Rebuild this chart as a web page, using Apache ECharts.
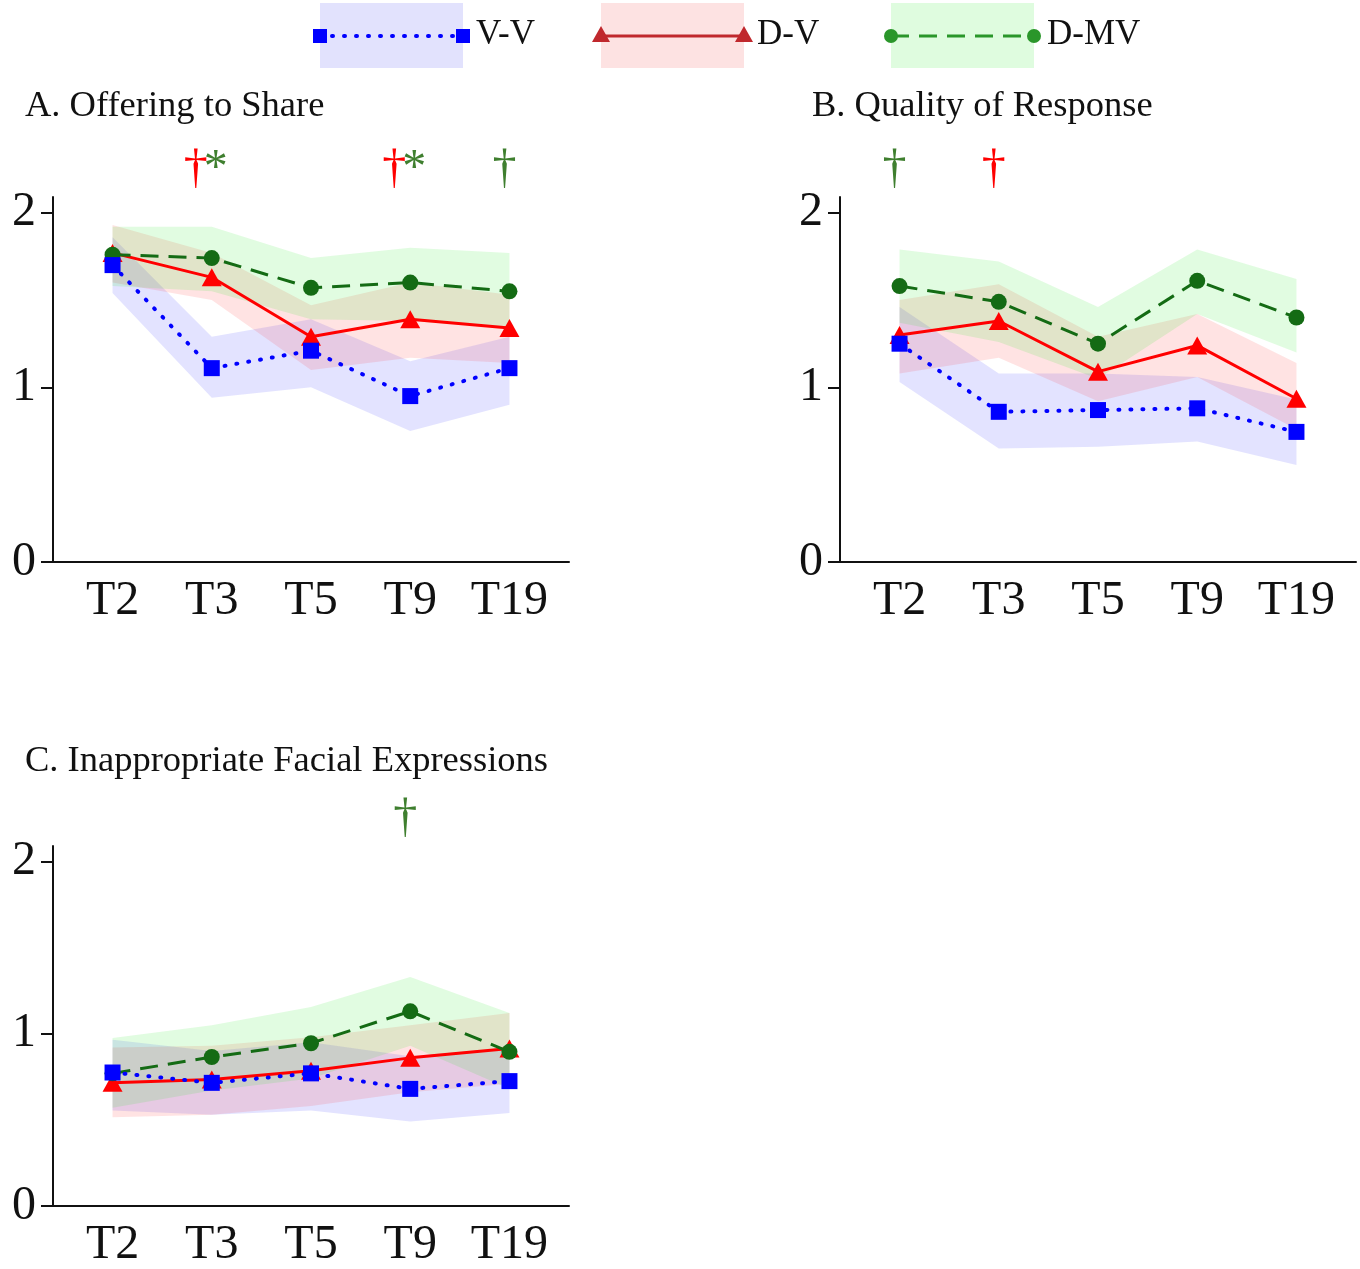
<!DOCTYPE html>
<html>
<head>
<meta charset="utf-8">
<script src="https://cdn.jsdelivr.net/npm/echarts@6/dist/echarts.min.js"></script>
<style>
  html, body { margin: 0; padding: 0; background: #fff; }
  #main { width: 1360px; height: 1269px; }
</style>
</head>
<body>
<div id="main"></div>
<script>
var chartDom = document.getElementById('main');
var myChart = echarts.init(chartDom);
var option;

// categories (time points) and their x positions
var categories = ['T2', 'T3', 'T5', 'T9', 'T19'];
var xPos = [1, 2, 3, 4, 5];
var yTicks = [0, 1, 2];

// A. Offering to Share
var vvA = [1.70, 1.11, 1.21, 0.95, 1.11];
var vvA_lo = [1.54, 0.94, 1.00, 0.75, 0.90];
var vvA_hi = [1.86, 1.29, 1.39, 1.15, 1.29];
var dvA = [1.77, 1.63, 1.29, 1.39, 1.34];
var dvA_lo = [1.60, 1.50, 1.10, 1.17, 1.14];
var dvA_hi = [1.93, 1.77, 1.47, 1.60, 1.53];
var dmvA = [1.76, 1.74, 1.57, 1.60, 1.55];
var dmvA_lo = [1.58, 1.55, 1.39, 1.38, 1.34];
var dmvA_hi = [1.92, 1.92, 1.74, 1.80, 1.77];

// B. Quality of Response
var vvB = [1.25, 0.86, 0.87, 0.88, 0.745];
var vvB_lo = [1.03, 0.65, 0.66, 0.69, 0.555];
var vvB_hi = [1.46, 1.08, 1.08, 1.06, 0.93];
var dvB = [1.30, 1.38, 1.09, 1.24, 0.935];
var dvB_lo = [1.08, 1.17, 0.92, 1.06, 0.76];
var dvB_hi = [1.50, 1.59, 1.29, 1.42, 1.14];
var dmvB = [1.58, 1.49, 1.25, 1.61, 1.40];
var dmvB_lo = [1.37, 1.26, 1.05, 1.42, 1.20];
var dmvB_hi = [1.79, 1.72, 1.46, 1.79, 1.62];

// C. Inappropriate Facial Expressions
var vvC = [0.775, 0.715, 0.77, 0.68, 0.725];
var vvC_lo = [0.555, 0.53, 0.555, 0.49, 0.54];
var vvC_hi = [0.965, 0.90, 0.95, 0.87, 0.92];
var dvC = [0.715, 0.735, 0.785, 0.86, 0.915];
var dvC_lo = [0.515, 0.53, 0.58, 0.66, 0.71];
var dvC_hi = [0.92, 0.93, 0.98, 1.05, 1.12];
var dmvC = [0.77, 0.865, 0.945, 1.13, 0.895];
var dmvC_lo = [0.57, 0.67, 0.74, 0.93, 0.68];
var dmvC_hi = [0.975, 1.05, 1.155, 1.33, 1.12];

// significance marks: panel, time point, mark, group
var markPanel = [0, 0, 0, 0, 0, 1, 1, 2];
var markX = [2, 2, 4, 4, 5, 1, 2, 4];
var markText = ['†', '*', '†', '*', '†', '†', '†', '†'];
var markGroup = ['dv', 'dmv', 'dv', 'dmv', 'dmv', 'dmv', 'dv', 'dmv'];
var markY = 2.25;

var FONT = '"Liberation Serif", "Times New Roman", serif';
var BLUE = '#0000ff';
var RED = '#ff0000';
var GREEN = '#146b14';
var MARK_GREEN = '#3f7f2f';

var grids = [
  { left: 53, top: 197, width: 516, height: 365 },
  { left: 840, top: 197, width: 516, height: 365 },
  { left: 53, top: 846, width: 516, height: 364 }
];

function makeX(i) {
  return {
    type: 'value',
    gridIndex: i,
    min: 0.4,
    max: 5.6,
    axisLine: { show: true, onZero: false, lineStyle: { color: '#111', width: 2 } },
    axisTick: { show: false },
    splitLine: { show: false },
    axisLabel: {
      customValues: xPos,
      margin: 15,
      color: '#111',
      fontFamily: FONT,
      fontSize: 48,
      formatter: function (v) {
        return categories[Math.round(v) - 1];
      }
    }
  };
}

function makeY(i) {
  return {
    type: 'value',
    gridIndex: i,
    min: 0,
    max: 2.09,
    axisLine: { show: true, lineStyle: { color: '#111', width: 2 } },
    axisTick: { show: true, customValues: yTicks, length: 12, lineStyle: { color: '#111', width: 2 } },
    splitLine: { show: false },
    axisLabel: {
      customValues: yTicks,
      margin: 17,
      padding: [4, 0, 0, 0],
      color: '#111',
      fontFamily: FONT,
      fontSize: 48
    }
  };
}

// shaded confidence band drawn as one polygon
function band(i, lo, hi, color) {
  return {
    type: 'custom',
    xAxisIndex: i,
    yAxisIndex: i,
    silent: true,
    z: 1,
    data: xPos.map(function (x, k) { return [x, lo[k], hi[k]]; }),
    renderItem: function (params, api) {
      if (params.dataIndex !== 0) return;
      var pts = [];
      for (var k = 0; k < xPos.length; k++) pts.push(api.coord([xPos[k], hi[k]]));
      for (var k = xPos.length - 1; k >= 0; k--) pts.push(api.coord([xPos[k], lo[k]]));
      return { type: 'polygon', shape: { points: pts }, style: { fill: color } };
    }
  };
}

function vvLine(i, vals) {
  return {
    name: 'V-V', type: 'line', xAxisIndex: i, yAxisIndex: i, z: 5,
    data: xPos.map(function (x, k) { return [x, vals[k]]; }),
    symbol: 'rect', symbolSize: 16, showAllSymbol: true,
    lineStyle: { color: BLUE, width: 4, type: [1, 11], cap: 'round' },
    itemStyle: { color: BLUE }
  };
}
function dvLine(i, vals) {
  return {
    name: 'D-V', type: 'line', xAxisIndex: i, yAxisIndex: i, z: 3,
    data: xPos.map(function (x, k) { return [x, vals[k]]; }),
    symbol: 'triangle', symbolSize: [20, 18],
    lineStyle: { color: RED, width: 3, type: 'solid' },
    itemStyle: { color: RED }
  };
}
function dmvLine(i, vals) {
  return {
    name: 'D-MV', type: 'line', xAxisIndex: i, yAxisIndex: i, z: 4,
    data: xPos.map(function (x, k) { return [x, vals[k]]; }),
    symbol: 'circle', symbolSize: 16,
    lineStyle: { color: GREEN, width: 3, type: [18, 10] },
    itemStyle: { color: GREEN }
  };
}

var BAND_BLUE = 'rgba(40, 40, 255, 0.13)';
var BAND_RED = 'rgba(255, 40, 40, 0.13)';
var BAND_GREEN = 'rgba(40, 235, 40, 0.14)';

var panels = [
  [vvA, vvA_lo, vvA_hi, dvA, dvA_lo, dvA_hi, dmvA, dmvA_lo, dmvA_hi],
  [vvB, vvB_lo, vvB_hi, dvB, dvB_lo, dvB_hi, dmvB, dmvB_lo, dmvB_hi],
  [vvC, vvC_lo, vvC_hi, dvC, dvC_lo, dvC_hi, dmvC, dmvC_lo, dmvC_hi]
];

var series = [];
panels.forEach(function (p, i) {
  series.push(band(i, p[1], p[2], BAND_BLUE));
  series.push(band(i, p[4], p[5], BAND_RED));
  series.push(band(i, p[7], p[8], BAND_GREEN));
  series.push(dvLine(i, p[3]));
  series.push(dmvLine(i, p[6]));
  series.push(vvLine(i, p[0]));
});

// ---------- legend (drawn by hand: shaded box + line + end markers) ----------
function legendItem(x, fill, lineStyle, marker, label) {
  var items = [
    { type: 'rect', shape: { x: x, y: 3, width: 143, height: 65 }, style: { fill: fill } },
    { type: 'line', shape: { x1: x, y1: 36, x2: x + 143, y2: 36 }, style: lineStyle }
  ];
  [x, x + 143].forEach(function (cx) {
    items.push(marker(cx));
  });
  items.push({
    type: 'text', x: x + 156, y: 35,
    style: { text: label, font: '35px ' + FONT, fill: '#111', textVerticalAlign: 'middle' }
  });
  return items;
}

var legendGraphics = [].concat(
  legendItem(320, '#e2e2fd', { stroke: BLUE, lineWidth: 4, lineDash: [1, 11], lineCap: 'round' }, function (cx) {
    return { type: 'rect', shape: { x: cx - 7, y: 29, width: 14, height: 14 }, style: { fill: BLUE } };
  }, 'V-V'),
  legendItem(601, '#fde2e2', { stroke: '#c0282d', lineWidth: 3 }, function (cx) {
    return { type: 'polygon', shape: { points: [[cx - 9, 42], [cx + 9, 42], [cx, 26]] }, style: { fill: '#c0282d' } };
  }, 'D-V'),
  legendItem(891, '#dffcdf', { stroke: '#2a962a', lineWidth: 3, lineDash: [18, 10] }, function (cx) {
    return { type: 'circle', shape: { cx: cx, cy: 36, r: 7 }, style: { fill: '#2a962a' } };
  }, 'D-MV')
);

var titleStyle = { fontFamily: FONT, fontSize: 36.5, fontWeight: 'normal', color: '#111' };

option = {
  animation: false,
  backgroundColor: '#ffffff',
  title: [
    { text: 'A. Offering to Share', left: 25, top: 88, padding: 0, textStyle: titleStyle },
    { text: 'B. Quality of Response', left: 812, top: 88, padding: 0, textStyle: titleStyle },
    { text: 'C. Inappropriate Facial Expressions', left: 25, top: 743, padding: 0, textStyle: titleStyle }
  ],
  grid: grids,
  xAxis: [makeX(0), makeX(1), makeX(2)],
  yAxis: [makeY(0), makeY(1), makeY(2)],
  series: series,
  graphic: legendGraphics
};

option && myChart.setOption(option);

// significance marks placed through the axes
var markGraphics = markX.map(function (x, k) {
  var pt = myChart.convertToPixel({ gridIndex: markPanel[k] }, [x, markY]);
  var txt = markText[k];
  var dx = txt === '*' ? 4 : (markText[k + 1] === '*' && markX[k + 1] === x ? -16 : -5);
  return {
    type: 'text',
    x: pt[0] + dx,
    y: pt[1],
    style: {
      text: txt,
      font: '48px ' + FONT,
      fill: markGroup[k] === 'dv' ? RED : MARK_GREEN,
      textAlign: 'center',
      textVerticalAlign: 'middle'
    }
  };
});
myChart.setOption({ graphic: legendGraphics.concat(markGraphics) });
</script>
</body>
</html>
